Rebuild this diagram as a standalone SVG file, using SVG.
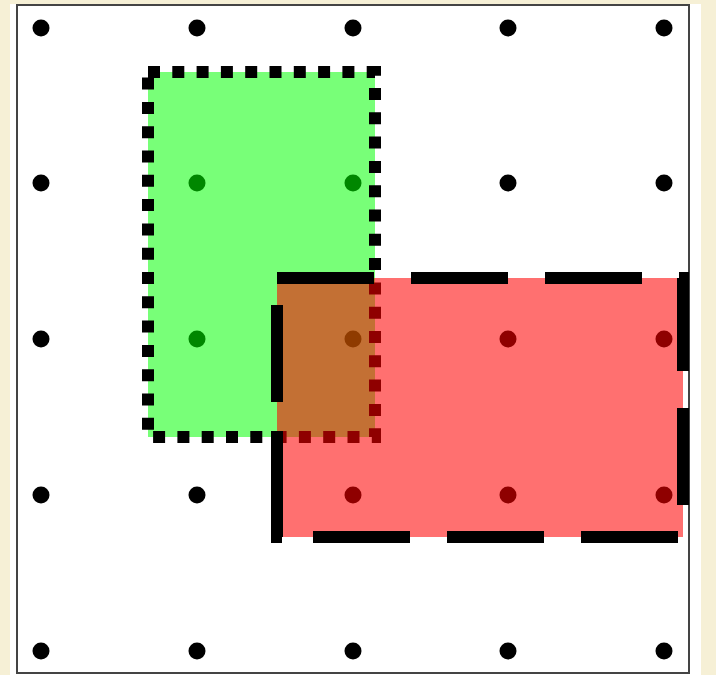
<svg xmlns="http://www.w3.org/2000/svg" width="716" height="675" viewBox="0 0 716 675">
  <style>
    .dot { fill: #000; }
    .green-fill { fill: rgb(0,255,0); fill-opacity: 0.53; }
    .green-border { fill: none; stroke: #000; stroke-width: 12; stroke-dasharray: 12 12.3; }
    .red-fill { fill: rgb(255,0,0); fill-opacity: 0.56; }
    .red-border { fill: none; stroke: #000; stroke-width: 12; stroke-dasharray: 97 37 97 37 97 37 97 37 97 37 97 37 97 37 97 31 111 29 97 27; }
  </style>
  <rect x="0" y="0" width="716" height="675" fill="#f6f0d6"/>
  <rect x="10" y="4" width="691" height="671" fill="#ffffff"/>
  <rect x="17" y="5" width="672" height="668" fill="none" stroke="#444" stroke-width="2"/>
  <g id="grid-dots">
    <circle class="dot" cx="41" cy="28" r="8.5"/>
    <circle class="dot" cx="197" cy="28" r="8.5"/>
    <circle class="dot" cx="353" cy="28" r="8.5"/>
    <circle class="dot" cx="508" cy="28" r="8.5"/>
    <circle class="dot" cx="664" cy="28" r="8.5"/>
    <circle class="dot" cx="41" cy="183" r="8.5"/>
    <circle class="dot" cx="197" cy="183" r="8.5"/>
    <circle class="dot" cx="353" cy="183" r="8.5"/>
    <circle class="dot" cx="508" cy="183" r="8.5"/>
    <circle class="dot" cx="664" cy="183" r="8.5"/>
    <circle class="dot" cx="41" cy="339" r="8.5"/>
    <circle class="dot" cx="197" cy="339" r="8.5"/>
    <circle class="dot" cx="353" cy="339" r="8.5"/>
    <circle class="dot" cx="508" cy="339" r="8.5"/>
    <circle class="dot" cx="664" cy="339" r="8.5"/>
    <circle class="dot" cx="41" cy="495" r="8.5"/>
    <circle class="dot" cx="197" cy="495" r="8.5"/>
    <circle class="dot" cx="353" cy="495" r="8.5"/>
    <circle class="dot" cx="508" cy="495" r="8.5"/>
    <circle class="dot" cx="664" cy="495" r="8.5"/>
    <circle class="dot" cx="41" cy="651" r="8.5"/>
    <circle class="dot" cx="197" cy="651" r="8.5"/>
    <circle class="dot" cx="353" cy="651" r="8.5"/>
    <circle class="dot" cx="508" cy="651" r="8.5"/>
    <circle class="dot" cx="664" cy="651" r="8.5"/>
  </g>
  <g id="green-rect">
    <rect class="green-fill" x="148" y="72" width="227" height="365"/>
    <rect class="green-border" x="148" y="72" width="227" height="365"/>
  </g>
  <g id="red-rect">
    <rect class="red-fill" x="277" y="278" width="406" height="259"/>
    <path class="red-border" d="M277,278 H683 V537 H277 Z"/>
  </g>
</svg>
